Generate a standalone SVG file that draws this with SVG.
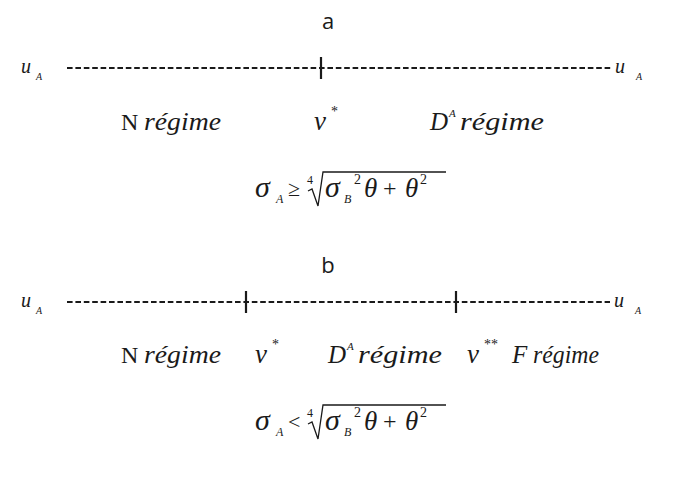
<svg xmlns="http://www.w3.org/2000/svg" width="683" height="479" viewBox="0 0 683 479">
<style>
text{fill:#1a1a1a}
.hd{font-family:"Open Sans","Noto Sans",sans-serif;font-size:22px}
.sf{font-family:"Liberation Serif",serif}
.it{font-family:"Liberation Serif",serif;font-style:italic}
.dash{stroke:#1a1a1a;stroke-width:2;stroke-dasharray:5.6 2.8;fill:none}
.tick{stroke:#1a1a1a;stroke-width:2.2;fill:none}
.rad{stroke:#1a1a1a;stroke-width:1.3;fill:none}
</style>
<g id="title-a"><text class="hd" x="328" y="29" text-anchor="middle">a</text></g>
<g id="axis-a">
<text class="it" x="21" y="73" font-size="20">u</text><text class="it" x="36" y="80" font-size="10">A</text>
<line class="dash" x1="67" y1="68" x2="612" y2="68"/>
<line class="tick" x1="321" y1="57" x2="321" y2="79"/>
<text class="it" x="615" y="73" font-size="20">u</text><text class="it" x="636" y="80" font-size="10">A</text>
</g>
<g id="labels-a">
<text class="sf" x="121" y="130" font-size="24">N</text>
<text class="it" x="144" y="130" font-size="25" textLength="77" lengthAdjust="spacingAndGlyphs">régime</text>
<text class="it" x="314" y="130" font-size="27">v</text><text class="sf" x="331" y="116" font-size="14">*</text>
<text class="it" x="430" y="130" font-size="25">D</text><text class="it" x="449" y="117" font-size="11">A</text>
<text class="it" x="460" y="130" font-size="25" textLength="84" lengthAdjust="spacingAndGlyphs">régime</text>
</g>
<g id="formula-a">
<text class="it" x="255" y="197" font-size="30">σ</text>
<text class="it" x="276" y="203" font-size="12">A</text>
<text class="sf" x="288" y="196" font-size="22">≥</text>
<text class="sf" x="307" y="184" font-size="12">4</text>
<path class="rad" d="M308 191 L312 189 L318 206 L323 172 L446 172"/>
<text class="it" x="325" y="197" font-size="30">σ</text>
<text class="it" x="344" y="203" font-size="12">B</text>
<text class="sf" x="354" y="184" font-size="14">2</text>
<text class="it" x="364" y="197" font-size="27">θ</text>
<text class="sf" x="383" y="196" font-size="24">+</text>
<text class="it" x="405" y="197" font-size="27">θ</text>
<text class="sf" x="420" y="184" font-size="14">2</text>
</g>
<g id="title-b"><text class="hd" x="328" y="273" text-anchor="middle">b</text></g>
<g id="axis-b">
<text class="it" x="21" y="307" font-size="20">u</text><text class="it" x="36" y="314" font-size="10">A</text>
<line class="dash" x1="67" y1="302" x2="610" y2="302"/>
<line class="tick" x1="246" y1="291" x2="246" y2="313"/>
<line class="tick" x1="456" y1="291" x2="456" y2="313"/>
<text class="it" x="614" y="307" font-size="20">u</text><text class="it" x="635" y="314" font-size="10">A</text>
</g>
<g id="labels-b">
<text class="sf" x="121" y="363" font-size="24">N</text>
<text class="it" x="144" y="363" font-size="25" textLength="77" lengthAdjust="spacingAndGlyphs">régime</text>
<text class="it" x="255" y="363" font-size="27">v</text><text class="sf" x="272" y="349" font-size="14">*</text>
<text class="it" x="328" y="363" font-size="25">D</text><text class="it" x="347" y="350" font-size="11">A</text>
<text class="it" x="358" y="363" font-size="25" textLength="84" lengthAdjust="spacingAndGlyphs">régime</text>
<text class="it" x="467" y="363" font-size="27">v</text><text class="sf" x="484" y="349" font-size="14">**</text>
<text class="it" x="512" y="363" font-size="25">F</text>
<text class="it" x="533" y="363" font-size="25" textLength="66" lengthAdjust="spacingAndGlyphs">régime</text>
</g>
<g id="formula-b">
<text class="it" x="255" y="430" font-size="30">σ</text>
<text class="it" x="276" y="436" font-size="12">A</text>
<text class="sf" x="288" y="429" font-size="22">&lt;</text>
<text class="sf" x="307" y="417" font-size="12">4</text>
<path class="rad" d="M308 424 L312 422 L318 439 L323 405 L446 405"/>
<text class="it" x="325" y="430" font-size="30">σ</text>
<text class="it" x="344" y="436" font-size="12">B</text>
<text class="sf" x="354" y="417" font-size="14">2</text>
<text class="it" x="364" y="430" font-size="27">θ</text>
<text class="sf" x="383" y="429" font-size="24">+</text>
<text class="it" x="405" y="430" font-size="27">θ</text>
<text class="sf" x="420" y="417" font-size="14">2</text>
</g>
</svg>
